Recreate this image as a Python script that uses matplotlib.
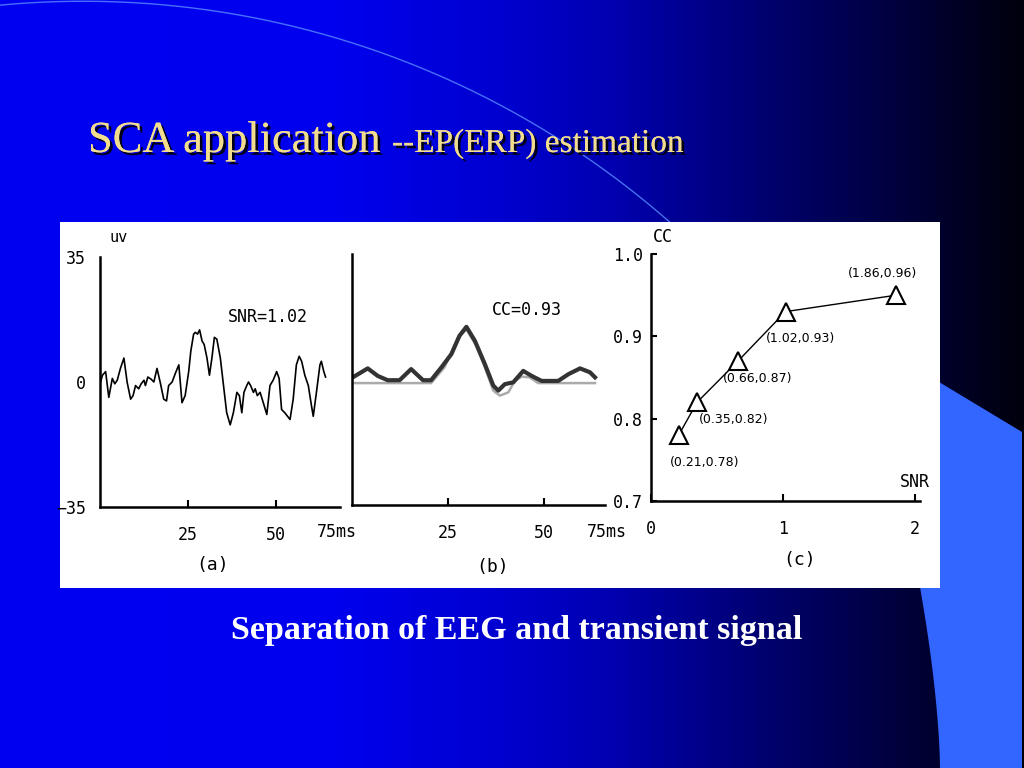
import numpy as np
import matplotlib
matplotlib.use('Agg')
import matplotlib.pyplot as plt
import matplotlib.patheffects as pe
from matplotlib.patches import Polygon, Rectangle

# (a) noisy EEG trace: time (ms), amplitude (uV)
eeg_t = [0.0, 0.7, 1.6, 2.5, 3.5, 4.2, 4.9, 5.8, 6.8, 7.7, 8.7, 9.4, 10.1, 11.0,
         11.7, 12.5, 12.9, 13.6, 14.5, 15.3, 16.2, 17.2, 18.1, 18.9, 19.5, 20.5,
         21.4, 22.4, 23.3, 24.2, 25.2, 25.8, 26.6, 27.1, 27.7, 28.3, 29.0, 29.6,
         30.4, 31.1, 31.8, 32.5, 33.2, 34.2, 35.1, 36.0, 37.0, 37.9, 38.9, 39.6,
         40.3, 40.9, 41.7, 42.2, 42.8, 43.6, 44.1, 44.7, 45.5, 46.4, 47.4, 48.3,
         49.2, 50.2, 50.9, 51.6, 52.5, 54.0, 54.9, 55.8, 56.6, 57.3, 58.2, 59.2,
         60.1, 60.6, 61.5, 62.5, 62.9, 63.6, 64.1]
eeg_v = [-0.5, 1.9, 2.9, -4.3, 1.0, -0.5, 0.5, 3.8, 6.7, 0.0, -4.8, -3.8, -1.0, -1.9,
         -0.5, 0.5, -1.0, 1.4, 0.8, 0.0, 3.8, -0.5, -4.8, -5.3, -1.0, 0.0,
         2.4, 4.8, -5.8, -3.8, 2.9, 8.6, 13.4, 13.9, 13.4, 14.6, 11.5, 10.5,
         6.7, 1.9, 6.7, 12.5, 12.0, 6.7, -1.0, -8.6, -12.0, -8.6, -2.9, -3.8,
         -8.6, -2.9, -1.0, 0.0, -1.0, -2.9, -1.9, -3.8, -2.9, -5.8, -9.1, -1.0,
         0.5, 2.9, 1.0, -7.7, -8.6, -10.5, -4.8, 4.8, 7.2, 5.8, 1.9, -1.0,
         -6.7, -9.6, -2.9, 4.8, 5.8, 2.9, 1.4]

# (b) estimated ERP (dark) and true ERP (grey)
est_t = [0.2, 4.1, 6.7, 9.3, 12.4, 15.4, 18.5, 20.6, 23.3, 25.9, 28.0, 29.8, 32.0,
         34.6, 36.8, 38.1, 39.8, 42.0, 44.6, 46.8, 49.4, 53.7, 56.4, 59.4, 62.0, 63.3]
est_v = [1.6, 4.1, 2.0, 0.8, 0.8, 3.9, 0.8, 0.8, 4.4, 8.1, 13.2, 15.7, 11.8,
         5.3, -0.7, -2.1, -0.3, 0.2, 3.4, 2.0, 0.6, 0.6, 2.5, 4.1, 3.0, 1.6]
true_t = [0.0, 20.6, 24.1, 27.6, 29.8, 32.4, 34.6, 36.8, 38.5, 40.7, 42.4, 44.2,
          46.3, 48.5, 63.3]
true_v = [0.0, 0.0, 4.4, 12.7, 15.0, 10.4, 4.4, -2.1, -3.5, -2.6, 0.6, 1.8,
          1.6, 0.0, 0.0]

# (c) correlation vs SNR
snr = [0.21, 0.35, 0.66, 1.02, 1.86]
cc = [0.78, 0.82, 0.87, 0.93, 0.95]
cc_labels = ['(0.21,0.78)', '(0.35,0.82)', '(0.66,0.87)', '(1.02,0.93)', '(1.86,0.96)']
label_offsets = [(26, -27), (36, -17), (20, -17), (15, -27), (-14, 22)]

W, H = 1024, 768
fig = plt.figure(figsize=(W / 100, H / 100), dpi=100)

# slide background
bg = fig.add_axes([0, 0, 1, 1])
bg.set_xlim(0, W)
bg.set_ylim(H, 0)
bg.axis('off')

tx = np.linspace(0, 1, 512)
stops = [0, 0.33, 0.5, 0.6, 0.75, 0.88, 1.0]
B = np.interp(tx, stops, [242, 238, 205, 175, 110, 60, 12])
img = np.zeros((2, 512, 3))
img[:, :, 2] = B / 255.0
bg.imshow(img, extent=(0, W, H, 0), aspect='auto', zorder=0)

# light blue swoosh bottom right
yy = np.linspace(768, 560, 30)
xx = 940 - 25 * ((768 - yy) / 208) ** 1.6
swoosh = [(939, 382), (1022, 432), (1022, 768)] + list(zip(xx, yy)) + [(915, 500)]
bg.add_patch(Polygon(swoosh, closed=True, facecolor='#3366ff', edgecolor='none', zorder=1))


def circle3(p1, p2, p3):
    ax_, ay_ = p1
    bx_, by_ = p2
    cx_, cy_ = p3
    d = 2 * (ax_ * (by_ - cy_) + bx_ * (cy_ - ay_) + cx_ * (ay_ - by_))
    ux = ((ax_**2 + ay_**2) * (by_ - cy_) + (bx_**2 + by_**2) * (cy_ - ay_) + (cx_**2 + cy_**2) * (ay_ - by_)) / d
    uy = ((ax_**2 + ay_**2) * (cx_ - bx_) + (bx_**2 + by_**2) * (ax_ - cx_) + (cx_**2 + cy_**2) * (bx_ - ax_)) / d
    return ux, uy, np.hypot(ax_ - ux, ay_ - uy)


cx, cy, r = circle3((120, 2), (460, 85), (665, 218))
a0 = np.arctan2(-2 - cy, 0 - cx)
a1 = np.arctan2(222 - cy, 690 - cx)
ang = np.linspace(a0, a1, 200)
bg.plot(cx + r * np.cos(ang), cy + r * np.sin(ang), color='#5a8cff', lw=1.0, alpha=0.8, zorder=1)

# white picture box
bg.add_patch(Rectangle((60, 222), 880, 366, facecolor='white', edgecolor='none', zorder=2))

shadow = [pe.withSimplePatchShadow(offset=(2, -2), shadow_rgbFace='black', alpha=0.9), pe.Normal()]
bg.text(88, 152, 'SCA application', fontsize=32, family='Liberation Serif', color='#f2dc8e',
        va='baseline', ha='left', zorder=3, path_effects=shadow)
bg.text(392, 152, '--EP(ERP) estimation', fontsize=24, family='Liberation Serif', color='#f2dc8e',
        va='baseline', ha='left', zorder=3, path_effects=shadow)
bg.text(517, 631, 'Separation of EEG and transient signal', fontsize=24.5, family='Liberation Serif',
        fontweight='bold', color='white', ha='center', va='center', zorder=3)

mono = 'DejaVu Sans Mono'
for lab, x, y in [('(a)', 213, 565), ('(b)', 493, 567), ('(c)', 800, 560)]:
    bg.text(x, y, lab, fontsize=13, family=mono, ha='center', va='center', zorder=3)


def px_axes(left, right, top, bottom):
    return fig.add_axes([left / W, 1 - bottom / H, (right - left) / W, (bottom - top) / H])


def style(ax):
    ax.set_facecolor('none')
    for s in ['top', 'right']:
        ax.spines[s].set_visible(False)
    for s in ['left', 'bottom']:
        ax.spines[s].set_linewidth(1.8)
    ax.tick_params(labelsize=12, width=1.5)
    for lab in ax.get_xticklabels() + ax.get_yticklabels():
        lab.set_family(mono)


# (a)
ax1 = px_axes(100, 340, 257, 507)
ax1.plot(eeg_t, eeg_v, color='black', lw=1.2)
ax1.set_xlim(0, 68.2)
ax1.set_ylim(-35, 35)
ax1.set_xticks([25, 50])
ax1.set_yticks([-35, 0, 35])
ax1.tick_params(axis='x', direction='in', length=5, pad=14)
ax1.tick_params(axis='y', length=0, pad=10)
style(ax1)
ax1.text(0.9875, -0.1, '75ms', transform=ax1.transAxes, fontsize=12, family=mono, ha='center', va='center')
ax1.text(0.04, 1.08, 'uv', transform=ax1.transAxes, fontsize=11, family=mono, ha='left', va='center')
ax1.text(47.7, 18.2, 'SNR=1.02', fontsize=12, family=mono, ha='center', va='center')

# (b)
ax2 = px_axes(352, 605, 254, 505)
ax2.plot(true_t, true_v, color='#aaaaaa', lw=1.8)
ax2.plot(est_t, est_v, color='#333333', lw=3.0)
ax2.set_xlim(0, 65.9)
ax2.set_ylim(-34, 36)
ax2.set_xticks([25, 50])
ax2.set_yticks([])
ax2.tick_params(axis='x', direction='in', length=5, pad=14)
style(ax2)
ax2.text(1.008, -0.108, '75ms', transform=ax2.transAxes, fontsize=12, family=mono, ha='center', va='center')
ax2.text(45.5, 20.5, 'CC=0.93', fontsize=12, family=mono, ha='center', va='center')

# (c)
ax3 = px_axes(651, 920, 254, 501)
ax3.plot(snr, cc, color='black', lw=1.0, marker='^', markersize=13,
         markerfacecolor='white', markeredgecolor='black', markeredgewidth=1.5)
for x, y, lab, off in zip(snr, cc, cc_labels, label_offsets):
    ax3.annotate(lab, (x, y), xytext=off, textcoords='offset pixels', fontsize=9,
                 family=['Liberation Sans Narrow', 'DejaVu Sans'], ha='center', va='center')
ax3.set_xlim(0, 2.04)
ax3.set_ylim(0.7, 1.0)
ax3.set_xticks([0, 1, 2])
ax3.set_yticks([0.7, 0.8, 0.9, 1.0])
ax3.set_yticklabels(['%.1f' % v for v in [0.7, 0.8, 0.9, 1.0]])
ax3.tick_params(axis='x', direction='in', length=5, pad=14)
ax3.tick_params(axis='y', direction='in', length=4, pad=6)
style(ax3)
ax3.text(0.007, 1.07, 'CC', transform=ax3.transAxes, fontsize=12, family=mono, ha='left', va='center')
ax3.text(0.98, 0.077, 'SNR', transform=ax3.transAxes, fontsize=12, family=mono, ha='center', va='center')

fig.savefig('out.png', dpi=100)
